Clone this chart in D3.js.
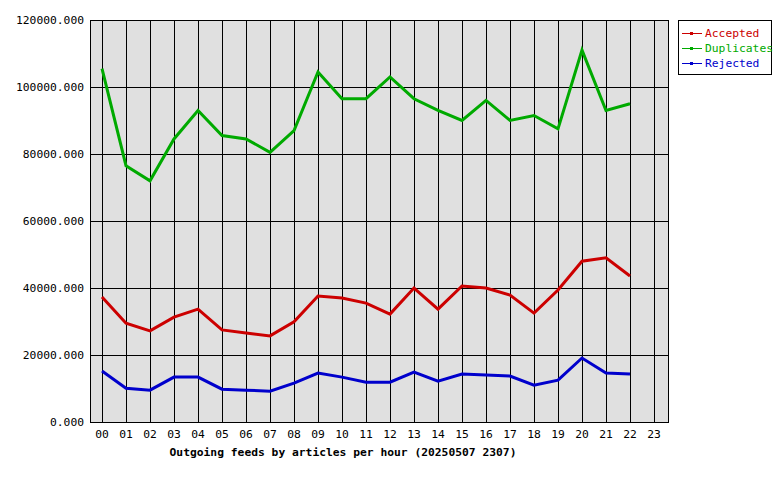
<!DOCTYPE html><html><head><script src="https://cdn.jsdelivr.net/npm/d3@7"></script>
<style>body{margin:0;background:#fff}text{font-family:"DejaVu Sans Mono",monospace;font-size:11.3px}</style></head><body>
<svg id="c" width="780" height="480"></svg>
<script>
const hours=["00","01","02","03","04","05","06","07","08","09","10","11","12","13","14","15","16","17","18","19","20","21","22","23"];
const accepted=[37300,29500,27200,31300,33700,27500,26600,25700,29900,37600,37000,35500,32200,40000,33700,40600,40000,37900,32500,39400,48000,49000,43600];
const duplicates=[105500,76500,72000,84500,93000,85500,84500,80500,87000,104500,96500,96500,103000,96500,93000,90000,96000,90000,91500,87500,111000,93000,95000];
const rejected=[15200,10100,9500,13400,13400,9800,9500,9200,11600,14600,13400,11900,11900,14900,12200,14300,14000,13700,11000,12500,19100,14600,14300];
const yTicks=[0,20000,40000,60000,80000,100000,120000];
const series=[{n:"Accepted",v:accepted,c:"#cc0000"},{n:"Duplicates",v:duplicates,c:"#00aa00"},{n:"Rejected",v:rejected,c:"#0000cc"}];
const svg=d3.select("#c");
const L=90,R=668,T=20,B=422;
const x=d3.scalePoint().domain(hours).range([102,654]);
const y=d3.scaleLinear().domain([0,120000]).range([B,T]);
svg.append("rect").attr("x",L+.5).attr("y",T+.5).attr("width",R-L).attr("height",B-T).attr("fill","#e0e0e0").attr("stroke","#000").attr("shape-rendering","crispEdges");
hours.forEach(h=>svg.append("line").attr("x1",x(h)+.5).attr("x2",x(h)+.5).attr("y1",T).attr("y2",B).attr("stroke","#000").attr("shape-rendering","crispEdges"));
yTicks.forEach(t=>svg.append("line").attr("x1",L).attr("x2",R).attr("y1",y(t)+.5).attr("y2",y(t)+.5).attr("stroke","#000").attr("shape-rendering","crispEdges"));
yTicks.forEach(t=>svg.append("text").attr("x",L-6).attr("y",y(t)+4).attr("text-anchor","end").text(t.toFixed(3)));
hours.forEach(h=>svg.append("text").attr("x",x(h)).attr("y",B+16).attr("text-anchor","middle").text(h));
svg.append("text").attr("x",343).attr("y",456).attr("text-anchor","middle").attr("font-weight","bold").text("Outgoing feeds by articles per hour (20250507 2307)");
const line=d3.line().x((d,i)=>x(hours[i])).y(d=>y(d));
series.forEach(s=>svg.append("path").attr("d",line(s.v)).attr("fill","none").attr("stroke",s.c).attr("stroke-width",3));
svg.append("rect").attr("x",678.5).attr("y",20.5).attr("width",93).attr("height",54).attr("fill","#fff").attr("stroke","#000").attr("shape-rendering","crispEdges");
series.forEach((s,i)=>{const yy=33+i*15;
svg.append("line").attr("x1",682).attr("x2",702).attr("y1",yy+.5).attr("y2",yy+.5).attr("stroke",s.c).attr("shape-rendering","crispEdges");
svg.append("rect").attr("x",690).attr("y",yy-1).attr("width",3).attr("height",3).attr("fill",s.c);
svg.append("text").attr("x",705).attr("y",yy+4).attr("fill",s.c).text(s.n);});
</script></body></html>
